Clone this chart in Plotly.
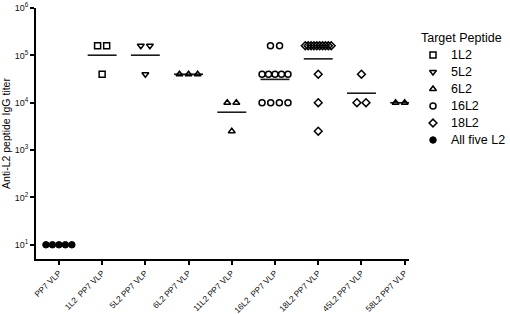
import numpy as np
import plotly.graph_objects as go

# ---- data ----
categories = ["PP7 VLP", "1L2\u00a0 PP7 VLP", "5L2 PP7 VLP", "6L2 PP7 VLP", "11L2 PP7 VLP",
              "16L2\u00a0 PP7 VLP", "18L2 PP7 VLP", "45L2 PP7 VLP", "58L2 PP7 VLP"]
target_of_group = ["All five L2", "1L2", "5L2", "6L2", "6L2", "16L2", "18L2", "18L2", "6L2"]

vals_pp7 = [10, 10, 10, 10, 10]
vals_1L2 = [160000, 160000, 40000]
vals_5L2 = [160000, 160000, 40000]
vals_6L2 = [40000, 40000, 40000]
vals_11L2 = [10000, 10000, 2500]
vals_16L2 = [160000, 160000, 40000, 40000, 40000, 40000, 40000, 10000, 10000, 10000, 10000]
vals_18L2 = [160000] * 10 + [40000, 10000, 2500]
vals_45L2 = [40000, 10000, 10000]
vals_58L2 = [10000, 10000, 10000]
group_values = [vals_pp7, vals_1L2, vals_5L2, vals_6L2, vals_11L2,
                vals_16L2, vals_18L2, vals_45L2, vals_58L2]

legend_title = "Target Peptide"
legend_names = ["1L2", "5L2", "6L2", "16L2", "18L2", "All five L2"]
legend_symbols = {"1L2": "square-open", "5L2": "triangle-down-open", "6L2": "triangle-up-open",
                  "16L2": "circle-open", "18L2": "diamond-open", "All five L2": "circle"}

y_tickvals = [10, 100, 1000, 10000, 100000, 1000000]
y_ticktext = ["10<sup>1</sup>", "10<sup>2</sup>", "10<sup>3</sup>", "10<sup>4</sup>",
              "10<sup>5</sup>", "10<sup>6</sup>"]

FONT = "Arial, Liberation Sans, sans-serif"
W, H = 510, 314
ML, MR, MT, MB = 36, 2, 8, 55
PLOT_W = W - ML - MR
MAIN_RIGHT_PX = 409          # right end of the x axis line
LEG_LEFT_PX = 412            # left edge of the legend block


def spread(vals, center):
    """Scatter-plot style horizontal spread of equal values around a category."""
    xs = np.zeros(len(vals))
    vals = np.asarray(vals)
    for v in np.unique(vals):
        idx = np.where(vals == v)[0]
        n = len(idx)
        if n == 1:
            xs[idx] = center
        else:
            step = min(0.21, 0.6 / (n - 1))
            xs[idx] = center + (np.arange(n) - (n - 1) / 2) * step
    return xs


def marker_style(name):
    if name == "All five L2":
        return dict(symbol="circle", size=6.5, color="black", line=dict(color="black", width=1))
    return dict(symbol=legend_symbols[name], size=6, color="black",
                line=dict(color="black", width=1.5))


fig = go.Figure()
for i, vals in enumerate(group_values):
    name = target_of_group[i]
    gm = 10 ** np.mean(np.log10(vals))
    fig.add_trace(go.Scatter(x=[i - 0.335, i + 0.335], y=[gm, gm], mode="lines",
                             line=dict(color="#1a1a1a", width=1.6), showlegend=False,
                             hoverinfo="skip"))
    fig.add_trace(go.Scatter(x=spread(vals, i), y=vals, mode="markers", name=name,
                             marker=marker_style(name), showlegend=False))

# ---- hand-drawn legend on an auxiliary axis pair (rows 17 px apart) ----
for r, name in enumerate(legend_names):
    fig.add_trace(go.Scatter(x=[21], y=[r], mode="markers", marker=marker_style(name),
                             xaxis="x2", yaxis="y2", showlegend=False, hoverinfo="skip",
                             cliponaxis=False))
    fig.add_annotation(x=37, y=r, xref="x2", yref="y2", text=name, showarrow=False,
                       xanchor="left", yanchor="middle", font=dict(size=12.5, color="black"))
fig.add_annotation(x=7, y=-1, xref="x2", yref="y2", text=legend_title, showarrow=False,
                   xanchor="left", yanchor="middle", font=dict(size=12.5, color="black"))

fig.update_layout(
    width=W, height=H,
    margin=dict(l=ML, r=MR, t=MT, b=MB),
    paper_bgcolor="white", plot_bgcolor="white",
    font=dict(family=FONT, color="black", size=10),
    showlegend=False,
    xaxis=dict(domain=[0, (MAIN_RIGHT_PX - ML) / PLOT_W],
               range=[-0.53, 8.1], tickvals=list(range(len(categories))), ticktext=categories,
               tickangle=-45, tickfont=dict(size=8.3, color="#111"), showline=True,
               linecolor="black", linewidth=2, ticks="outside", ticklen=4, tickwidth=1.5,
               tickcolor="black", showgrid=False, zeroline=False, automargin=False),
    yaxis=dict(type="log", range=[0.7, 6], tickvals=y_tickvals, ticktext=y_ticktext,
               tickfont=dict(size=9, color="#111"), showline=True, linecolor="black",
               linewidth=2, ticks="outside", ticklen=4, tickwidth=1.5, tickcolor="black",
               showgrid=False, zeroline=False, automargin=False,
               title=dict(text="Anti-L2 peptide IgG titer", font=dict(size=10.5))),
    xaxis2=dict(domain=[(LEG_LEFT_PX - ML) / PLOT_W, 1], range=[0, W - MR - LEG_LEFT_PX],
                anchor="y2", visible=False),
    yaxis2=dict(domain=[0, 1], range=[(H - MB - 55) / 17, (MT - 55) / 17],
                anchor="x2", visible=False),
)

fig.write_html("out.html", config={"displayModeBar": False},
               post_script="document.body.style.margin='0';")
